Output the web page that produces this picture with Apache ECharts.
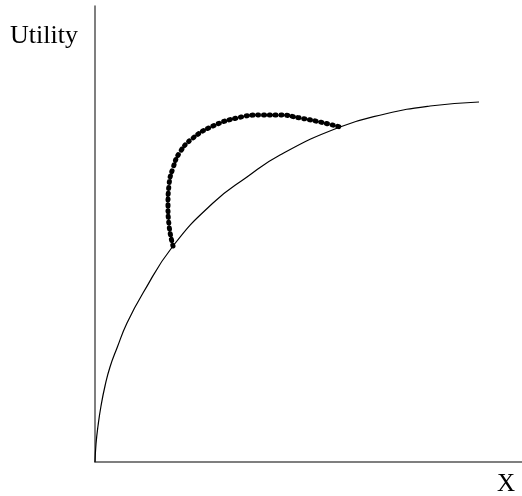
<!DOCTYPE html>
<html>
<head>
<meta charset="utf-8">
<style>
  html, body { margin: 0; padding: 0; background: #fff; }
  #chart { width: 522px; height: 496px; }
</style>
<script src="https://cdn.jsdelivr.net/npm/echarts@6/dist/echarts.min.js"></script>
</head>
<body>
<div id="chart"></div>
<script>
// utility curve (x, utility)
const utilityCurve = [
  [0, 0], [1, 18], [3, 36], [6, 56], [10, 76], [15, 95], [22, 114],
  [32, 139], [48, 169], [78, 216], [118, 259], [152, 285], [185, 307],
  [245, 335], [290, 348], [335, 356], [384, 360]
];
// dotted arc between the two points on the curve
const dottedArc = [
  [78, 216], [74, 237], [73, 257], [74, 277], [78, 294], [85, 310],
  [98, 324], [118, 336], [142, 344], [165, 347], [185, 347],
  [205, 344], [225, 340], [245, 335]
];
const xMax = 427;
const yMax = 456;
const yName = "Utility";
const xName = "X";

let chart = echarts.init(document.getElementById("chart"));
let font = "'Liberation Serif', 'Times New Roman', serif";

let option = {
  animation: false,
  backgroundColor: "#fff",
  title: [
    {
      text: yName,
      left: 10,
      top: 23,
      padding: 0,
      textStyle: { fontFamily: font, fontSize: 26, fontWeight: "normal", color: "#000" },
    },
    {
      text: xName,
      left: 497,
      top: 472,
      padding: 0,
      textStyle: { fontFamily: font, fontSize: 25, fontWeight: "normal", color: "#000" },
    },
  ],
  grid: { left: 95, right: 0, top: 6, bottom: 34 },
  xAxis: {
    type: "value",
    min: 0,
    max: xMax,
    axisLine: { show: true, lineStyle: { color: "#555", width: 1.5 } },
    axisTick: { show: false },
    axisLabel: { show: false },
    splitLine: { show: false },
  },
  yAxis: {
    type: "value",
    min: 0,
    max: yMax,
    axisLine: { show: true, lineStyle: { color: "#555", width: 1.5 } },
    axisTick: { show: false },
    axisLabel: { show: false },
    splitLine: { show: false },
  },
  series: [
    {
      type: "line",
      data: utilityCurve,
      smooth: 0.5,
      showSymbol: false,
      lineStyle: { color: "#000", width: 1.2 },
    },
    {
      type: "line",
      data: dottedArc,
      smooth: 0.5,
      showSymbol: false,
      lineStyle: { color: "#000", width: 5, type: [1, 4.8], cap: "round" },
    },
  ],
};
chart.setOption(option);
</script>
</body>
</html>
